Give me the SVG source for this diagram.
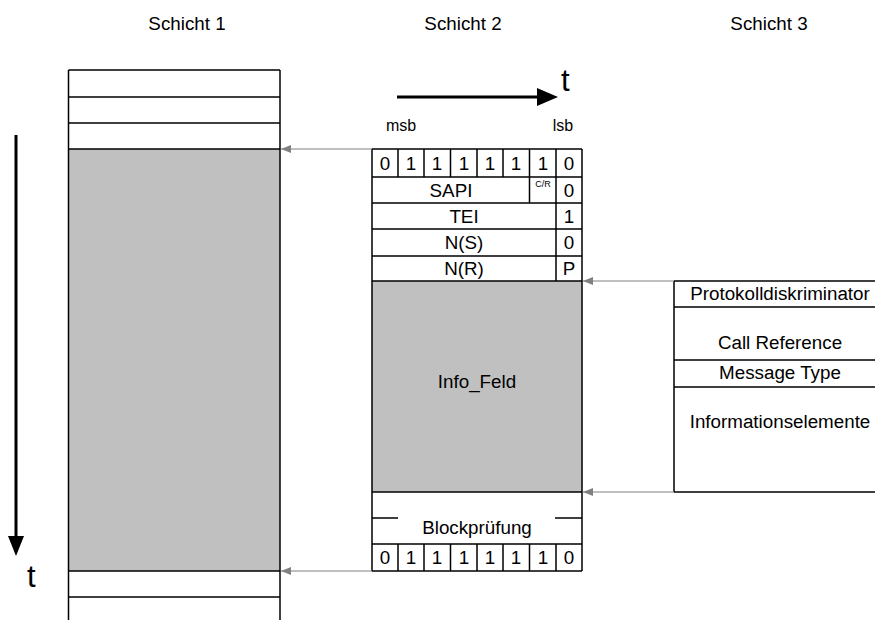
<svg xmlns="http://www.w3.org/2000/svg" width="875" height="620" viewBox="0 0 875 620">
<style>
text{font-family:"Liberation Sans",Arial,sans-serif;fill:#000}
.t{font-size:18.8px;text-anchor:middle}
.s{font-size:16px;text-anchor:middle}
.ln{stroke:#000;stroke-width:1.5;fill:none}
.g{fill:#c0c0c0}
.con{stroke:#808080;stroke-width:1;fill:none;marker-end:url(#ga)}
</style>
<defs>
<marker id="ga" viewBox="0 0 10 10" refX="10" refY="5" markerWidth="10" markerHeight="10" markerUnits="userSpaceOnUse" orient="auto"><path d="M0,1 L10,5 L0,9 z" fill="#808080"/></marker>
</defs>
<g id="titles">
<text class="t" x="187" y="30">Schicht 1</text>
<text class="t" x="463" y="30">Schicht 2</text>
<text class="t" x="769" y="30">Schicht 3</text>
</g>
<g id="time-axes">
<line x1="397" y1="97" x2="540" y2="97" stroke="#000" stroke-width="3"/>
<path d="M537,88 L558,97 L537,106 z" fill="#000"/>
<text x="561" y="91" style="font-size:31px">t</text>
<line x1="16" y1="135" x2="16" y2="540" stroke="#000" stroke-width="3"/>
<path d="M8,536 L16,556 L24,536 z" fill="#000"/>
<text x="27" y="587" style="font-size:31px">t</text>
<text class="s" x="401" y="131">msb</text>
<text class="s" x="563" y="131">lsb</text>
</g>
<g id="schicht1">
<rect class="g" x="68.5" y="149" width="211.5" height="422"/>
<path class="ln" d="M68.5,70 V620 M280,70 V620 M68.5,70 H280 M68.5,97 H280 M68.5,123 H280 M68.5,149 H280 M68.5,571 H280 M68.5,597 H280"/>
</g>
<g id="schicht2">
<rect class="g" x="372" y="281" width="210" height="211"/>
<path class="ln" d="M372,149 V571 M582,149 V571 M372,149 H582 M372,177 H582 M372,203 H582 M372,229 H582 M372,256 H582 M372,281 H582 M372,492 H582 M372,544 H582 M372,571 H582 M372,518 H398 M555,518 H582"/>
<path class="ln" d="M398,149 V177 M424,149 V177 M450.5,149 V177 M477,149 V177 M503,149 V177 M529.5,149 V177 M556,149 V281 M529.5,177 V203 M398,544 V571 M424,544 V571 M450.5,544 V571 M477,544 V571 M503,544 V571 M529.5,544 V571 M556,544 V571"/>
<g class="t">
<text x="385" y="170">0</text><text x="411" y="170">1</text><text x="437" y="170">1</text><text x="464" y="170">1</text><text x="490" y="170">1</text><text x="516" y="170">1</text><text x="543" y="170">1</text><text x="569" y="170">0</text>
<text x="451" y="197">SAPI</text>
<text x="543" y="187" style="font-size:9px">C/R</text>
<text x="569" y="197">0</text>
<text x="464" y="223">TEI</text><text x="569" y="223">1</text>
<text x="464" y="249">N(S)</text><text x="569" y="249">0</text>
<text x="464" y="275">N(R)</text><text x="569" y="275">P</text>
<text x="477" y="388">Info_Feld</text>
<text x="477" y="534">Blockprüfung</text>
<text x="385" y="564">0</text><text x="411" y="564">1</text><text x="437" y="564">1</text><text x="464" y="564">1</text><text x="490" y="564">1</text><text x="516" y="564">1</text><text x="543" y="564">1</text><text x="569" y="564">0</text>
</g>
</g>
<g id="schicht3">
<path class="ln" d="M674,281 V492 M674,281 H876 M674,307 H876 M674,360 H876 M674,387 H876 M674,492 H876"/>
<g class="t">
<text x="780" y="300">Protokolldiskriminator</text>
<text x="780" y="349">Call Reference</text>
<text x="780" y="379">Message Type</text>
<text x="780" y="428">Informationselemente</text>
</g>
</g>
<g id="connectors">
<line class="con" x1="372" y1="149" x2="281" y2="149"/>
<line class="con" x1="372" y1="571" x2="281" y2="571"/>
<line class="con" x1="674" y1="281" x2="583" y2="281"/>
<line class="con" x1="674" y1="492" x2="583" y2="492"/>
</g>
</svg>
